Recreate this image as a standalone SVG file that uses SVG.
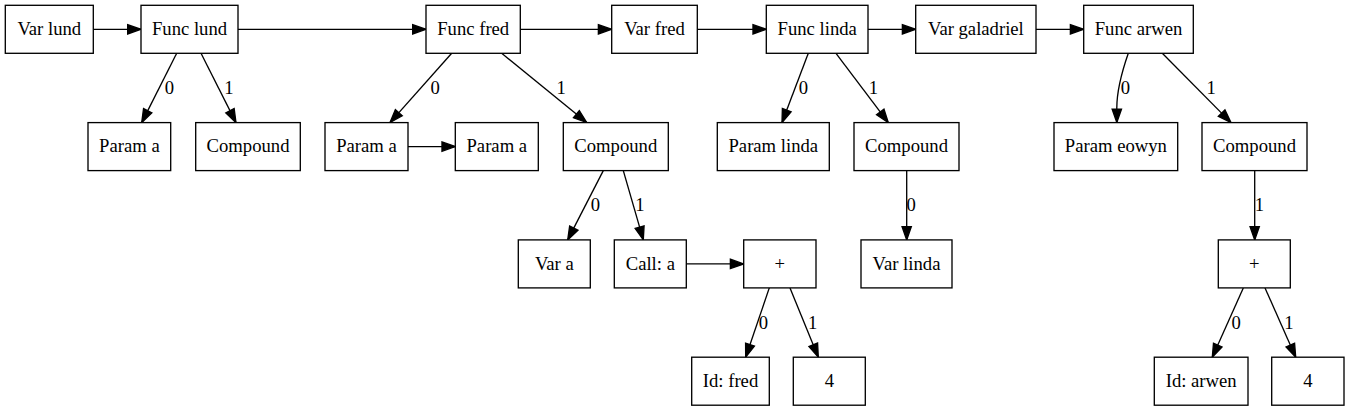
<svg xmlns="http://www.w3.org/2000/svg" width="1349" height="411" viewBox="0 0 1349 411">
<style>
rect.n{fill:#fff;stroke:#000;stroke-width:1.33}
text{font-family:"Liberation Serif","Times New Roman",serif;font-size:18.67px;fill:#000}
text.t{text-anchor:middle}
text.l{text-anchor:middle}
#edges path{fill:none;stroke:#000;stroke-width:1.33;marker-end:url(#ah)}
</style>
<defs>
<marker id="ah" markerUnits="userSpaceOnUse" markerWidth="16" markerHeight="12" refX="13.33" refY="4.67" orient="auto" overflow="visible">
<path d="M0,0 L13.33,4.67 L0,9.33 Z" fill="#000" stroke="#000" stroke-width="1.33"/>
</marker>
</defs>
<rect width="1349" height="411" fill="#fff"/>
<g id="edges">
<path d="M93.3,29.3 L141,29.3"/>
<path d="M238,29.3 L426,29.3"/>
<path d="M520.3,29.3 L611.7,29.3"/>
<path d="M697.3,29.3 L766.3,29.3"/>
<path d="M868,29.3 L915.7,29.3"/>
<path d="M1036,29.3 L1083.7,29.3"/>
<path d="M408,146.6 L455.3,146.6"/>
<path d="M686.3,263.9 L743.7,263.9"/>
<path d="M176.7,53.3 L141.7,122.6"/>
<path d="M201,53.3 L236,122.6"/>
<path d="M451.7,53.3 L390,122.6"/>
<path d="M501.7,53.3 L586.7,122.6"/>
<path d="M808.3,53.3 L782,122.6"/>
<path d="M836,53.3 L888.3,122.6"/>
<path d="M1128.3,53.3 C1122.5,70 1116.8,88 1116.8,108 L1116.8,122.6"/>
<path d="M1162.3,53.3 L1231,122.6"/>
<path d="M603.3,170.6 L567.7,239.9"/>
<path d="M623.3,170.6 L643.3,239.9"/>
<path d="M906.7,170.6 L906.7,239.9"/>
<path d="M1254.7,170.6 L1254.7,239.9"/>
<path d="M769.3,287.9 L745.7,357.2"/>
<path d="M790,287.9 L818.3,357.2"/>
<path d="M1243.3,287.9 L1212.3,357.2"/>
<path d="M1265,287.9 L1295.7,357.2"/>
<text class="l" x="169.5" y="94">0</text>
<text class="l" x="228.8" y="94">1</text>
<text class="l" x="435.2" y="94">0</text>
<text class="l" x="561.2" y="94">1</text>
<text class="l" x="803.3" y="94">0</text>
<text class="l" x="873.3" y="94">1</text>
<text class="l" x="1125.5" y="94">0</text>
<text class="l" x="1211.2" y="94">1</text>
<text class="l" x="595.5" y="211.3">0</text>
<text class="l" x="640" y="211.3">1</text>
<text class="l" x="911.2" y="211.3">0</text>
<text class="l" x="1259.3" y="211.3">1</text>
<text class="l" x="763.3" y="328.5">0</text>
<text class="l" x="812.7" y="328.5">1</text>
<text class="l" x="1236.2" y="328.5">0</text>
<text class="l" x="1289" y="328.5">1</text>
</g>
<g id="n_varlund"><rect class="n" x="5.3" y="5.3" width="88" height="48"/><text class="t" x="49.3" y="34.9">Var lund</text></g>
<g id="n_funclund"><rect class="n" x="141" y="5.3" width="97" height="48"/><text class="t" x="189.5" y="34.9">Func lund</text></g>
<g id="n_funcfred"><rect class="n" x="426" y="5.3" width="94.3" height="48"/><text class="t" x="473.2" y="34.9">Func fred</text></g>
<g id="n_varfred"><rect class="n" x="611.7" y="5.3" width="85.6" height="48"/><text class="t" x="654.5" y="34.9">Var fred</text></g>
<g id="n_funclinda"><rect class="n" x="766.3" y="5.3" width="101.7" height="48"/><text class="t" x="817.2" y="34.9">Func linda</text></g>
<g id="n_vargaladriel"><rect class="n" x="915.7" y="5.3" width="120.3" height="48"/><text class="t" x="975.9" y="34.9">Var galadriel</text></g>
<g id="n_funcarwen"><rect class="n" x="1083.7" y="5.3" width="109.6" height="48"/><text class="t" x="1138.5" y="34.9">Func arwen</text></g>
<g id="n_parama_lund"><rect class="n" x="88" y="122.6" width="82.7" height="48"/><text class="t" x="129.4" y="152.2">Param a</text></g>
<g id="n_compound_lund"><rect class="n" x="195.7" y="122.6" width="104.6" height="48"/><text class="t" x="248" y="152.2">Compound</text></g>
<g id="n_parama_fred1"><rect class="n" x="325" y="122.6" width="83" height="48"/><text class="t" x="366.5" y="152.2">Param a</text></g>
<g id="n_parama_fred2"><rect class="n" x="455.3" y="122.6" width="83" height="48"/><text class="t" x="496.8" y="152.2">Param a</text></g>
<g id="n_compound_fred"><rect class="n" x="563.3" y="122.6" width="105" height="48"/><text class="t" x="615.8" y="152.2">Compound</text></g>
<g id="n_paramlinda"><rect class="n" x="717.3" y="122.6" width="112" height="48"/><text class="t" x="773.3" y="152.2">Param linda</text></g>
<g id="n_compound_linda"><rect class="n" x="854" y="122.6" width="105" height="48"/><text class="t" x="906.5" y="152.2">Compound</text></g>
<g id="n_parameowyn"><rect class="n" x="1054" y="122.6" width="123.7" height="48"/><text class="t" x="1115.9" y="152.2">Param eowyn</text></g>
<g id="n_compound_arwen"><rect class="n" x="1202" y="122.6" width="105" height="48"/><text class="t" x="1254.5" y="152.2">Compound</text></g>
<g id="n_vara"><rect class="n" x="518.3" y="239.9" width="72" height="48"/><text class="t" x="554.3" y="269.5">Var a</text></g>
<g id="n_calla"><rect class="n" x="614.3" y="239.9" width="72" height="48"/><text class="t" x="650.3" y="269.5">Call: a</text></g>
<g id="n_plus_fred"><rect class="n" x="743.7" y="239.9" width="72.3" height="48"/><text class="t" x="779.8" y="269.5">+</text></g>
<g id="n_varlinda"><rect class="n" x="861" y="239.9" width="91" height="48"/><text class="t" x="906.5" y="269.5">Var linda</text></g>
<g id="n_plus_arwen"><rect class="n" x="1218.3" y="239.9" width="72" height="48"/><text class="t" x="1254.3" y="269.5">+</text></g>
<g id="n_idfred"><rect class="n" x="691.7" y="357.2" width="77.6" height="48"/><text class="t" x="730.5" y="386.8">Id: fred</text></g>
<g id="n_four_fred"><rect class="n" x="793.3" y="357.2" width="72" height="48"/><text class="t" x="829.3" y="386.8">4</text></g>
<g id="n_idarwen"><rect class="n" x="1154.3" y="357.2" width="93.7" height="48"/><text class="t" x="1201.2" y="386.8">Id: arwen</text></g>
<g id="n_four_arwen"><rect class="n" x="1271.7" y="357.2" width="72.3" height="48"/><text class="t" x="1307.8" y="386.8">4</text></g>
</svg>
